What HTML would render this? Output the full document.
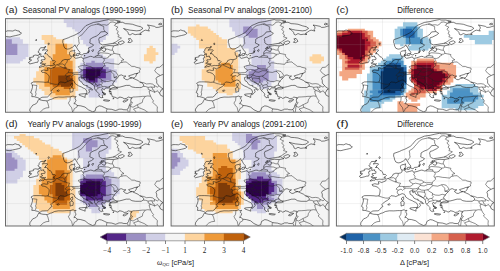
<!DOCTYPE html><html><head><meta charset="utf-8"><style>html,body{margin:0;padding:0;background:#fff;width:500px;height:271px;overflow:hidden}svg{display:block}text{font-family:"Liberation Sans",sans-serif;fill:#222}</style></head><body>
<svg xmlns="http://www.w3.org/2000/svg" width="500" height="271" viewBox="0 0 500 271">
<defs>
<clipPath id="mc"><rect x="0" y="0" width="157.90" height="93.60"/></clipPath>
<g id="grid"><path d="M1.88 0V93.60M24.00 0V93.60M46.12 0V93.60M68.24 0V93.60M90.36 0V93.60M112.48 0V93.60M134.60 0V93.60M156.72 0V93.60M0 93.79H157.90M0 71.19H157.90M0 48.59H157.90M0 25.99H157.90M0 3.39H157.90" fill="none" stroke="#aaa" stroke-opacity="0.35" stroke-width="0.45"/></g>
<g id="lines"><path d="M-2.5 17.4L-0.3 17.3L1.4 18.0L4.5 18.3L7.4 17.5L10.3 16.9L12.9 16.3L14.5 15.8L16.0 14.5L13.8 13.3L13.8 12.4L11.8 12.1L9.6 11.3L7.4 12.4L4.5 12.2L1.9 12.2L-1.4 13.6L-2.5 11.8L-5.9 12.0L-8.1 13.6L-3.6 14.7L-7.0 15.1L-3.6 16.5L-2.5 17.4M30.6 20.8L31.5 21.6L30.0 21.7L30.6 20.8M43.2 24.2L43.9 25.5L43.0 26.2L42.6 25.1L43.2 24.2M39.5 27.8L40.6 28.2L39.0 28.7L39.5 27.8M32.1 43.7L32.8 41.9L32.4 41.0L32.3 40.2L32.1 39.5L33.8 38.8L33.5 38.0L32.5 36.8L29.9 36.4L27.8 37.0L28.0 38.2L24.0 39.0L23.8 39.7L24.9 40.0L23.6 40.9L26.2 41.4L24.2 42.8L24.2 43.2L23.0 43.8L23.2 44.3L24.4 45.3L27.8 44.5L28.8 44.2L30.4 43.7L32.1 43.7M49.1 46.0L49.3 45.5L47.4 45.2L48.3 44.5L49.0 44.2L50.0 43.0L49.0 42.0L46.8 42.1L46.9 41.6L46.3 40.5L45.9 39.3L44.8 38.4L43.6 38.1L43.0 37.3L41.7 35.5L40.6 35.0L39.0 35.1L40.4 34.4L39.7 34.0L40.7 33.4L41.6 32.4L42.2 31.6L41.7 31.2L38.8 31.2L36.8 31.6L37.7 30.8L39.3 29.5L39.4 29.1L38.6 29.0L35.1 29.1L34.4 30.1L33.5 31.4L33.5 32.2L32.4 33.4L33.7 34.1L34.0 35.0L33.3 36.6L34.2 35.5L35.5 35.1L35.3 36.6L35.4 38.1L36.8 37.7L38.4 37.4L38.0 38.4L39.7 39.3L39.5 40.2L39.4 40.9L37.3 41.1L35.9 41.1L35.7 42.3L37.1 42.9L36.8 43.6L34.5 44.4L35.1 45.0L36.8 45.1L37.5 45.0L39.0 45.3L40.1 45.0L39.5 45.9L36.8 46.0L36.1 46.3L35.1 47.3L33.5 48.5L34.6 48.6L36.9 47.8L38.0 48.1L38.5 47.2L39.7 47.0L40.7 47.4L41.9 47.0L43.2 46.8L44.4 46.9L46.7 46.9L48.3 46.5L49.1 46.0M161.1 6.8L156.7 7.5L153.4 8.6L150.5 8.8L149.0 7.7L144.6 6.8L141.9 6.4L143.7 7.9L143.9 9.5L143.0 11.1L143.9 12.4L140.1 11.5L138.6 12.0L134.6 14.7L134.4 15.6L135.9 15.6L132.4 15.6L129.7 16.0L126.9 14.9L124.6 16.3L123.1 15.8L122.4 13.6L120.4 11.5L118.0 9.9L121.3 10.8L124.6 11.5L131.3 12.2L134.6 11.8L137.5 9.7L135.3 8.1L131.5 7.2L126.9 5.6L123.5 5.2L120.0 5.0L116.9 3.6L114.7 3.8L111.4 3.4L114.9 2.6L109.2 1.4L104.7 1.4L103.2 0.9L98.5 1.8L93.7 2.9L87.9 3.8L83.7 5.6L80.4 7.0L78.0 9.5L76.0 12.0L73.8 14.0L70.5 15.8L68.2 16.9L64.9 18.1L63.2 19.0L59.6 20.3L57.4 21.0L57.2 23.7L57.8 25.1L58.3 27.6L58.7 28.2L59.4 29.6L61.7 30.5L63.8 30.2L67.1 28.5L69.6 26.2L70.0 27.8L70.9 28.5L72.4 31.2L74.5 33.6L74.0 34.6L74.9 35.9L76.6 36.4L78.2 35.0L81.1 34.8L82.3 33.6L83.3 31.0L82.8 29.4L85.9 28.2L87.0 27.6L88.1 26.2L85.9 25.1L84.2 24.4L84.6 22.6L84.6 20.6L87.5 18.8L91.0 17.4L93.7 15.4L95.2 13.3L99.5 12.9L102.3 14.7L100.3 16.3L95.9 18.5L93.9 19.0L93.2 20.8L93.7 22.6L93.7 24.2L94.8 25.1L97.0 26.3L101.4 25.7L104.7 25.1L109.6 24.4L111.4 25.5L112.9 26.2L108.1 27.2L103.6 26.9L100.9 27.2L98.1 27.8L98.1 29.2L100.3 29.7L100.1 31.4L99.4 32.8L97.4 32.5L96.1 31.1L93.8 31.9L92.6 33.9L92.8 35.7L92.5 36.7L90.1 37.4L89.5 38.5L87.4 38.6L86.8 37.9L84.8 37.7L80.6 39.1L77.6 39.8L76.2 38.9L76.0 38.2L72.9 39.1L70.2 39.7L68.7 38.6L68.0 37.7L67.8 36.2L69.6 34.4L68.9 33.0L69.3 31.4L68.0 32.0L65.1 32.5L64.0 33.7L64.3 36.2L65.1 37.3L65.8 38.4L65.4 39.8L64.0 40.6L62.0 41.0L59.4 40.8L56.6 41.9L56.1 43.4L55.2 44.1L53.9 45.2L51.9 46.1L50.2 46.4L49.7 47.0L49.7 48.1L48.6 48.8L46.3 49.7L45.5 50.2L43.2 49.3L41.9 49.3L42.6 51.6L40.6 51.8L38.4 51.3L35.6 52.2L36.5 53.6L38.6 53.8L41.3 54.8L43.6 57.3L43.7 58.5L43.4 60.7L42.7 63.4L39.6 63.7L37.7 63.4L33.6 63.2L30.6 63.2L27.9 63.3L25.5 64.6L26.8 66.2L27.0 68.6L26.4 70.7L25.1 74.0L26.4 74.6L26.7 75.7L26.3 78.0L28.6 78.0L32.2 79.0L34.3 80.0L36.4 78.6L40.8 78.4L41.7 78.5L44.0 76.6L45.0 74.9L46.6 74.0L45.3 72.4L48.0 69.6L51.0 68.0L53.4 66.0L52.9 65.1L54.7 63.3L58.0 63.7L59.4 64.2L62.3 62.8L65.8 61.2L67.9 61.9L68.9 63.2L69.3 64.5L70.9 65.8L73.1 67.2L76.2 68.5L77.6 69.4L78.9 69.8L80.6 71.1L81.5 73.4L80.7 75.5L81.6 75.8L82.8 74.6L84.1 73.2L83.3 71.2L84.3 70.2L85.9 71.0L86.7 71.6L87.0 70.9L85.8 69.7L83.4 68.7L81.3 67.8L81.8 66.9L79.7 66.8L77.5 65.7L76.0 63.1L73.9 62.0L73.3 59.0L75.1 58.3L76.5 58.4L76.2 59.9L77.1 60.3L78.1 59.2L79.7 61.9L82.5 63.3L86.2 65.2L88.1 66.4L89.1 68.3L89.1 70.2L90.4 71.9L92.0 73.6L93.2 74.8L93.9 75.4L93.2 76.6L94.1 78.2L95.9 79.3L96.6 78.4L97.4 79.2L96.6 76.7L97.7 76.3L98.5 75.8L99.2 76.5L99.2 75.3L97.4 74.4L96.9 72.7L96.1 71.2L96.8 69.8L98.8 71.2L100.1 69.2L103.4 69.3L105.0 69.9L104.1 71.1L103.7 72.3L105.6 72.8L105.4 74.1L106.1 74.7L104.3 75.0L106.3 75.9L106.7 78.0L108.7 78.4L110.5 78.9L111.6 79.8L113.8 78.9L114.0 78.3L116.9 79.0L118.7 80.1L121.3 79.6L122.7 78.4L124.9 78.9L126.1 78.9L125.5 80.5L125.2 81.4L125.4 82.7L125.4 83.7L124.6 85.0L123.5 87.5L123.0 89.2L122.2 90.4L120.9 91.2L117.6 91.0L116.5 90.5L113.4 90.5L112.3 91.1L110.0 91.9L106.3 90.7L101.8 90.3L99.1 89.0L96.1 87.6L93.7 87.2L90.5 89.0L89.5 92.4L87.0 93.1L82.8 91.1L79.5 88.4L75.3 87.2L71.6 86.8L70.2 85.2L68.5 85.0L69.9 83.1L70.6 81.4L69.6 80.5L69.5 79.3L70.6 77.9L68.7 78.3L67.9 77.3L65.1 78.1L63.3 78.2L61.4 78.2L58.8 78.4L57.4 78.5L52.9 78.4L49.0 79.1L46.3 80.5L44.7 80.9L41.7 82.3L39.7 82.0L37.5 81.9L34.3 81.1L34.4 80.5L33.3 80.7L32.5 82.0L31.5 84.1L31.0 84.7L29.3 85.7L27.3 86.4L25.7 88.6L24.4 90.4L24.3 92.3L24.9 92.9L24.6 94.9M110.4 68.5L108.1 66.8L107.0 65.5L107.9 64.0L109.5 61.7L111.8 59.4L114.1 56.6L116.0 56.3L118.2 57.4L120.4 57.4L118.0 59.1L120.2 60.8L121.8 61.1L124.4 59.8L126.9 59.1L124.6 59.0L123.1 57.2L127.5 55.9L129.2 55.1L132.2 54.8L130.8 56.0L130.5 57.5L128.8 59.2L127.2 59.4L128.6 60.1L129.7 60.6L132.6 61.9L133.9 63.1L136.8 64.4L138.2 66.3L138.1 67.5L135.7 68.9L133.9 68.9L130.0 68.9L126.4 68.3L123.9 66.7L121.3 66.8L120.8 66.7L116.5 67.9L113.6 68.6L110.5 68.6L112.3 69.5L110.6 70.2L107.9 70.4L106.5 70.3L104.5 70.9L105.0 70.3L107.0 69.0L108.6 68.8L110.4 68.5M163.4 55.4L156.7 56.0L154.5 57.0L152.7 57.9L151.4 58.5L150.5 60.1L151.2 61.7L151.2 64.4L153.0 66.6L154.7 68.3L157.5 70.3L155.8 71.2L155.2 72.5L154.2 74.0L154.3 74.8L155.0 76.6L155.5 76.8L157.4 77.7L158.9 78.5L163.4 78.9M51.3 72.2L53.0 71.3L53.8 71.9L53.0 72.8L51.3 72.2M66.9 64.4L67.2 66.4L66.5 68.1L65.1 67.2L65.1 65.8L66.9 64.4M66.5 68.4L67.8 70.1L67.4 73.0L66.0 73.2L64.7 73.7L64.7 71.6L64.3 69.8L65.8 68.9L66.5 68.4M73.5 75.7L76.0 75.3L80.7 75.0L79.5 77.3L79.7 78.8L77.8 78.0L73.8 76.6L73.5 75.7M98.1 81.2L99.9 81.1L104.3 81.8L103.2 82.5L100.8 82.5L98.1 81.9L98.1 81.2M117.6 82.5L119.1 81.7L122.7 80.9L121.1 82.3L119.1 83.4L117.6 83.2L117.6 82.5M86.2 32.1L87.5 30.7L88.1 31.2L87.3 33.0L86.2 32.1M82.4 34.6L83.9 32.0L83.1 33.7L82.4 34.6M94.3 29.8L96.6 29.2L97.7 29.6L94.8 30.6L94.3 29.8M95.4 28.7L97.0 28.2L96.6 28.7L95.4 28.7M70.5 36.6L70.9 35.3L72.7 34.8L74.0 35.0L73.3 36.6L71.6 37.1L70.5 36.6M67.8 36.6L68.2 35.9L69.6 36.2L69.6 37.3L67.8 36.6M78.6 37.1L79.5 36.8L79.5 37.3L78.6 37.1M153.0 5.6L154.7 4.5L156.5 5.4L154.5 6.2L153.0 5.6M96.8 73.4L98.3 73.9L100.5 75.5L99.2 75.5L97.4 74.4L96.8 73.4M107.4 80.0L108.5 79.2L107.8 80.5L107.4 80.0M103.4 73.0L105.0 72.8L104.3 73.4L103.4 73.0M112.5 24.2L114.0 23.1L116.9 22.1L118.9 23.3L118.0 24.6L114.7 26.0L112.5 24.2M122.4 23.7L124.2 21.5L122.7 20.3L124.9 19.7L126.9 22.6L124.6 24.0L122.4 23.7" fill="none" stroke="#111" stroke-width="0.55" stroke-linejoin="round"/><path d="M71.3 28.2L72.2 26.4L73.8 24.9L73.3 22.6L73.3 20.8L72.8 18.5L76.9 15.8L77.8 14.5L80.2 11.8L83.1 8.4L85.9 6.8L91.6 5.5M91.6 5.5L93.2 5.0L95.7 6.3L99.0 6.1L101.2 6.6L103.2 5.6L104.7 3.6L107.4 3.3L108.9 3.8L110.9 4.7L110.0 5.5M110.0 5.5L111.4 4.7L114.4 3.9M91.6 5.5L95.7 6.8L98.3 8.0L98.2 10.6L99.5 12.9M110.0 5.5L108.9 6.8L112.5 8.6L110.5 10.4L112.7 13.1L111.6 14.9L113.6 16.5L112.5 18.1L116.0 19.4L110.3 23.3L107.6 24.7M108.1 27.2L107.6 28.5L107.0 29.8L107.0 31.0L106.6 31.5M99.9 30.7L102.1 30.5L104.7 31.4L106.6 31.5M106.6 31.5L107.8 32.3L108.5 34.7M108.5 34.7L107.2 35.5L105.0 35.7M92.7 34.9L95.2 34.1L99.2 34.4L102.7 34.7L105.0 35.7M105.0 35.7L105.4 36.6L103.2 37.6L102.7 38.9L100.1 39.8L98.1 39.7M92.6 36.6L94.8 37.2L96.6 37.5L96.3 38.8M96.3 38.8L92.6 38.6L89.6 38.5M96.3 38.8L98.1 39.7M98.1 39.7L99.0 41.4L98.3 42.7L97.4 43.5L98.4 45.2M108.5 34.7L114.5 35.9L114.2 37.3L116.5 40.0L118.5 41.1L115.8 42.0L116.5 43.8M98.4 45.2L100.1 44.3L102.1 44.2L106.3 45.0L108.5 45.1L110.7 45.4L113.6 45.7L114.5 44.1L116.5 43.8M116.5 43.8L118.0 43.4L120.9 43.3L122.2 44.7L124.4 46.2L126.2 47.7L129.1 47.8L130.6 48.6L134.6 49.5L134.8 50.8L133.9 51.8L134.2 53.6L130.6 55.1M98.4 45.2L99.4 46.7L98.1 47.7L96.1 49.7L96.0 50.6M77.5 39.8L78.0 41.1L77.3 42.3L78.6 43.8L78.4 45.4L79.3 46.3M79.3 46.3L82.0 47.2L83.5 47.7L85.3 47.9L87.7 49.7M87.7 49.7L89.9 50.4L92.4 50.2L96.0 50.6M96.0 50.6L95.1 52.2M95.1 52.2L96.8 53.2M96.8 53.2L101.2 53.8L105.0 52.5M105.0 52.5L107.0 52.1L109.8 52.9L110.7 54.0L112.7 56.7L111.8 57.6L108.5 58.9M105.0 52.5L106.5 53.8L108.3 55.8L108.5 58.9M108.5 58.9L111.8 59.3M96.8 53.2L94.8 54.5L93.0 56.7L90.9 57.4M90.9 57.4L93.5 59.4L95.9 60.6L96.3 61.6M96.3 61.6L99.2 62.7L102.7 62.9L105.8 61.9L109.3 62.7M96.3 61.6L95.7 62.8L97.0 64.4L95.7 66.0M95.7 66.0L97.0 68.1M97.0 68.1L99.2 67.8L102.1 68.4L103.9 68.1L104.4 67.3M104.4 67.3L106.5 66.7L108.1 66.7M104.4 67.3L103.9 68.3L103.7 69.4M97.0 68.1L94.8 68.7L92.6 69.3M92.6 69.3L91.9 70.5L90.4 71.9M92.6 69.3L91.5 67.8L91.7 67.0M91.7 67.0L90.6 65.5L89.0 66.9M91.7 67.0L93.9 66.1L95.7 66.0M90.6 65.5L88.6 63.3M88.6 63.3L87.0 65.7M87.0 65.7L85.5 64.4L83.7 63.3L81.5 61.7L81.1 59.4L83.7 59.4L87.0 59.8L88.3 60.1M88.3 60.1L89.0 61.7L88.6 63.3M88.3 60.1L88.0 57.9M88.0 57.9L85.1 57.7L82.6 56.5M82.6 56.5L80.6 57.3L80.2 58.8L78.4 58.8L76.2 58.9M76.4 58.5L76.4 56.5M76.4 56.5L79.3 56.3L81.7 55.7M81.7 55.7L82.6 56.5M88.0 57.9L90.9 57.4M84.1 53.1L87.7 53.6L91.5 52.0L95.1 52.2M81.7 55.7L82.6 54.2L84.1 53.1M84.1 53.1L83.6 51.8M83.6 51.8L85.3 51.2L87.7 49.7M83.6 51.8L79.3 50.8L76.8 51.4M76.8 51.4L73.8 49.7L72.9 47.9L76.0 47.0L77.8 46.6L79.3 46.3M76.8 51.4L74.9 53.6L73.1 54.0L69.3 54.1L67.2 54.1M76.4 56.5L73.3 55.8L70.5 55.8L69.2 55.7M69.2 55.7L67.2 55.3L67.2 54.1M67.2 54.1L64.9 54.0L62.9 54.0M62.9 54.0L61.6 54.5L59.6 56.7L61.2 57.4L61.6 57.9M61.6 57.9L64.7 56.7L66.0 58.0L67.1 57.0L69.2 55.7M61.6 57.9L60.7 59.7L61.6 61.7L62.7 62.6M62.9 54.0L63.2 52.4L64.3 50.9L61.6 50.4L60.2 49.8M60.2 49.8L58.9 49.6M58.9 49.6L56.7 48.6L52.8 46.8L51.8 46.1M58.9 49.6L59.6 48.3M60.2 49.8L59.6 48.3M59.6 48.3L59.4 46.9M59.4 46.9L57.2 45.3L53.6 45.5M59.4 46.9L59.8 45.2L61.2 44.1L61.7 42.7L62.0 41.1M65.1 37.5L68.0 37.7M42.2 63.6L46.1 64.9L49.4 65.7L53.1 65.7M26.5 66.9L28.0 66.4L31.5 66.9L31.0 68.9L30.6 72.1L30.0 73.4L30.6 75.3L29.8 77.5M41.3 82.3L42.4 84.7L43.5 89.0L40.6 89.3L37.7 90.6L34.4 93.8M65.1 78.1L64.7 79.1L64.5 81.8L62.8 84.5L63.4 85.2L64.4 87.0L66.1 89.0L67.1 93.3M71.7 86.7L71.6 88.4L68.9 89.9L68.2 91.8L67.1 93.3M67.1 93.3L68.0 94.9M101.8 90.2L101.0 91.5L101.3 94.9M121.9 90.9L123.3 94.9M123.8 86.8L124.9 86.4L125.4 86.3M124.8 87.7L124.6 90.4L124.0 94.9M125.4 86.3L124.9 87.7M125.6 83.3L126.6 83.6L127.1 84.3L126.0 85.2L125.4 86.3M124.9 87.7L127.5 88.6L131.9 86.1M131.9 86.1L132.8 88.8M132.8 88.8L128.0 90.4L130.2 92.7L129.3 94.9M131.9 86.1L136.8 83.8L137.3 81.1L139.8 77.7M125.5 80.3L126.2 80.0L127.1 78.4L130.2 78.3L134.6 78.0L136.8 77.7L139.8 77.7M132.8 88.8L139.0 91.3L145.0 95.6M139.8 77.7L142.3 77.3L145.1 77.6M145.1 77.6L146.5 80.3L148.1 82.3L147.0 83.6L148.8 85.2L151.9 88.1L151.6 91.5L152.3 94.9M145.1 77.6L144.1 75.0L143.6 72.5L145.2 71.9M145.2 71.9L142.7 70.6L142.6 68.7M142.6 68.7L140.1 67.9L138.0 67.8M134.5 63.5L137.9 64.0L141.0 65.3L144.6 65.0L147.2 65.5L148.9 66.9M142.6 68.7L145.7 68.3M145.7 68.3L149.0 68.8L148.9 66.9M145.7 68.3L146.8 69.4L147.4 71.2L149.0 72.3L149.0 73.7M145.2 71.9L147.4 72.8L149.0 73.7M148.9 66.9L151.9 68.5L153.5 67.1M149.0 73.7L152.1 72.1L153.2 73.9L154.3 74.7M154.5 56.7L151.2 54.5L149.2 52.0L151.2 48.8L154.1 48.6L158.3 45.0L161.1 45.0" fill="none" stroke="#222" stroke-width="0.5"/></g>
</defs>
<g transform="translate(5.50,18.65)">
<rect x="0" y="0" width="157.90" height="93.60" fill="#f4f4f4"/>
<g clip-path="url(#mc)">
<g><path d="M58.26 -0.58H103.10V2.15H58.26ZM58.26 1.55H103.10V4.28H58.26ZM61.03 3.68H103.10V6.41H61.03ZM61.03 5.81H103.10V8.54H61.03ZM66.56 7.94H103.10V10.67H66.56ZM69.32 10.07H103.10V12.80H69.32ZM72.09 12.20H103.10V14.93H72.09ZM72.09 14.33H103.10V17.06H72.09ZM74.85 16.46H100.34V19.19H74.85ZM0.20 18.59H14.62V21.32H0.20ZM74.85 18.59H100.34V21.32H74.85ZM0.20 20.72H17.39V23.45H0.20ZM77.62 20.72H97.57V23.45H77.62ZM0.20 22.85H17.39V25.58H0.20ZM77.62 22.85H94.81V25.58H77.62ZM0.20 24.98H22.92V27.71H0.20ZM80.38 24.98H94.81V27.71H80.38ZM0.20 27.11H22.92V29.84H0.20ZM83.15 27.11H94.81V29.84H83.15ZM0.20 29.24H22.92V31.97H0.20ZM83.15 29.24H94.81V31.97H83.15ZM0.20 31.37H22.92V34.10H0.20ZM83.15 31.37H94.81V34.10H83.15ZM0.20 33.50H22.92V36.23H0.20ZM80.38 33.50H94.81V36.23H80.38ZM0.20 35.63H22.92V38.36H0.20ZM77.62 35.63H97.57V38.36H77.62ZM0.20 37.76H20.15V40.49H0.20ZM77.62 37.76H100.34V40.49H77.62ZM0.20 39.89H17.39V42.62H0.20ZM77.62 39.89H108.63V42.62H77.62ZM0.20 42.02H14.62V44.75H0.20ZM77.62 42.02H108.63V44.75H77.62ZM74.85 44.15H108.63V46.88H74.85ZM74.85 46.28H108.63V49.01H74.85ZM74.85 48.41H108.63V51.14H74.85ZM72.09 50.54H111.40V53.27H72.09ZM72.09 52.67H111.40V55.40H72.09ZM72.09 54.80H111.40V57.53H72.09ZM72.09 56.93H111.40V59.66H72.09ZM72.09 59.06H111.40V61.79H72.09ZM74.85 61.19H111.40V63.92H74.85ZM77.62 63.32H108.63V66.05H77.62ZM80.38 65.45H105.87V68.18H80.38ZM80.38 67.58H103.10V70.31H80.38ZM83.15 69.71H97.57V72.44H83.15ZM83.15 71.84H97.57V74.57H83.15ZM83.15 73.97H97.57V76.70H83.15ZM83.15 76.10H94.81V78.83H83.15Z" fill="#d0cfe6"/><path d="M36.14 16.46H47.80V19.19H36.14ZM36.14 18.59H50.57V21.32H36.14ZM38.91 20.72H58.86V23.45H38.91ZM38.91 22.85H58.86V25.58H38.91ZM41.67 24.98H67.16V27.71H41.67ZM41.67 27.11H67.16V29.84H41.67ZM143.98 27.11H147.34V29.84H143.98ZM41.67 29.24H67.16V31.97H41.67ZM141.21 29.24H150.11V31.97H141.21ZM41.67 31.37H67.16V34.10H41.67ZM141.21 31.37H150.11V34.10H141.21ZM41.67 33.50H69.92V36.23H41.67ZM141.21 33.50H152.87V36.23H141.21ZM38.91 35.63H69.92V38.36H38.91ZM138.45 35.63H150.11V38.36H138.45ZM38.91 37.76H69.92V40.49H38.91ZM138.45 37.76H150.11V40.49H138.45ZM38.91 39.89H69.92V42.62H38.91ZM138.45 39.89H150.11V42.62H138.45ZM36.14 42.02H69.92V44.75H36.14ZM143.98 42.02H147.34V44.75H143.98ZM36.14 44.15H69.92V46.88H36.14ZM36.14 46.28H69.92V49.01H36.14ZM33.38 48.41H69.92V51.14H33.38ZM33.38 50.54H69.92V53.27H33.38ZM30.61 52.67H72.69V55.40H30.61ZM30.61 54.80H72.69V57.53H30.61ZM30.61 56.93H72.69V59.66H30.61ZM27.85 59.06H72.69V61.79H27.85ZM27.85 61.19H72.69V63.92H27.85ZM30.61 63.32H72.69V66.05H30.61ZM33.38 65.45H72.69V68.18H33.38ZM33.38 67.58H72.69V70.31H33.38ZM36.14 69.71H72.69V72.44H36.14ZM38.91 71.84H69.92V74.57H38.91ZM38.91 73.97H69.92V76.70H38.91ZM44.44 76.10H69.92V78.83H44.44ZM47.20 78.23H61.63V80.96H47.20Z" fill="#fdd49e"/><path d="M0.20 20.72H6.33V23.45H0.20ZM0.20 22.85H6.33V25.58H0.20ZM0.20 24.98H11.86V27.71H0.20ZM0.20 27.11H11.86V29.84H0.20ZM0.20 29.24H11.86V31.97H0.20ZM0.20 31.37H11.86V34.10H0.20ZM0.20 33.50H11.86V36.23H0.20ZM85.91 42.02H89.28V44.75H85.91ZM80.38 44.15H97.57V46.88H80.38ZM77.62 46.28H100.34V49.01H77.62ZM77.62 48.41H103.10V51.14H77.62ZM74.85 50.54H105.87V53.27H74.85ZM74.85 52.67H105.87V55.40H74.85ZM74.85 54.80H105.87V57.53H74.85ZM74.85 56.93H105.87V59.66H74.85ZM77.62 59.06H105.87V61.79H77.62ZM80.38 61.19H100.34V63.92H80.38ZM85.91 63.32H94.81V66.05H85.91ZM88.68 65.45H94.81V68.18H88.68Z" fill="#9b8fc3"/><path d="M49.97 24.98H61.63V27.71H49.97ZM49.97 27.11H61.63V29.84H49.97ZM49.97 29.24H61.63V31.97H49.97ZM49.97 31.37H61.63V34.10H49.97ZM49.97 33.50H61.63V36.23H49.97ZM47.20 35.63H64.39V38.36H47.20ZM47.20 37.76H64.39V40.49H47.20ZM47.20 39.89H64.39V42.62H47.20ZM44.44 42.02H67.16V44.75H44.44ZM44.44 44.15H67.16V46.88H44.44ZM44.44 46.28H67.16V49.01H44.44ZM38.91 48.41H67.16V51.14H38.91ZM38.91 50.54H67.16V53.27H38.91ZM38.91 52.67H67.16V55.40H38.91ZM38.91 54.80H67.16V57.53H38.91ZM38.91 56.93H69.92V59.66H38.91ZM38.91 59.06H69.92V61.79H38.91ZM38.91 61.19H69.92V63.92H38.91ZM38.91 63.32H69.92V66.05H38.91ZM38.91 65.45H69.92V68.18H38.91ZM44.44 67.58H69.92V70.31H44.44ZM44.44 69.71H64.39V72.44H44.44ZM47.20 71.84H64.39V74.57H47.20ZM49.97 73.97H64.39V76.70H49.97Z" fill="#ee9a3a"/><path d="M80.38 48.41H97.57V51.14H80.38ZM77.62 50.54H100.34V53.27H77.62ZM77.62 52.67H100.34V55.40H77.62ZM77.62 54.80H100.34V57.53H77.62ZM77.62 56.93H100.34V59.66H77.62ZM80.38 59.06H92.04V61.79H80.38ZM83.15 61.19H92.04V63.92H83.15Z" fill="#542788"/><path d="M47.20 48.41H61.63V51.14H47.20ZM44.44 50.54H67.16V53.27H44.44ZM44.44 52.67H67.16V55.40H44.44ZM44.44 54.80H67.16V57.53H44.44ZM44.44 56.93H67.16V59.66H44.44ZM44.44 59.06H67.16V61.79H44.44ZM44.44 61.19H67.16V63.92H44.44ZM44.44 63.32H67.16V66.05H44.44ZM47.20 65.45H67.16V68.18H47.20ZM58.26 67.58H64.39V70.31H58.26Z" fill="#c0620c"/><path d="M80.38 50.54H94.81V53.27H80.38ZM80.38 52.67H94.81V55.40H80.38ZM80.38 54.80H94.81V57.53H80.38ZM80.38 56.93H92.04V59.66H80.38ZM83.15 59.06H89.28V61.79H83.15Z" fill="#2d004b"/><path d="M52.73 56.93H64.39V59.66H52.73ZM52.73 59.06H67.16V61.79H52.73ZM52.73 61.19H67.16V63.92H52.73ZM52.73 63.32H67.16V66.05H52.73ZM55.50 65.45H64.39V68.18H55.50Z" fill="#7f3b08"/></g>
<use href="#grid"/>
<use href="#lines"/>
</g>
<rect x="0" y="0" width="157.90" height="93.60" fill="none" stroke="#666" stroke-width="0.95"/>
<text x="-0.2" y="-5.35" font-size="9" textLength="12.3" lengthAdjust="spacingAndGlyphs">(a)</text>
<text x="78.95" y="-5.5" font-size="8.7" text-anchor="middle" textLength="123.7" lengthAdjust="spacingAndGlyphs">Seasonal PV analogs (1990-1999)</text>
</g>
<g transform="translate(171.10,18.65)">
<rect x="0" y="0" width="157.90" height="93.60" fill="#f4f4f4"/>
<g clip-path="url(#mc)">
<g><path d="M58.26 -0.58H94.81V2.15H58.26ZM58.26 1.55H100.34V4.28H58.26ZM58.26 3.68H100.34V6.41H58.26ZM58.26 5.81H100.34V8.54H58.26ZM61.03 7.94H100.34V10.67H61.03ZM61.03 10.07H100.34V12.80H61.03ZM63.79 12.20H100.34V14.93H63.79ZM63.79 14.33H100.34V17.06H63.79ZM66.56 16.46H100.34V19.19H66.56ZM72.09 18.59H100.34V21.32H72.09ZM72.09 20.72H100.34V23.45H72.09ZM72.09 22.85H100.34V25.58H72.09ZM0.20 24.98H6.33V27.71H0.20ZM72.09 24.98H100.34V27.71H72.09ZM0.20 27.11H9.09V29.84H0.20ZM72.09 27.11H100.34V29.84H72.09ZM0.20 29.24H6.33V31.97H0.20ZM77.62 29.24H100.34V31.97H77.62ZM0.20 31.37H6.33V34.10H0.20ZM77.62 31.37H100.34V34.10H77.62ZM0.20 33.50H3.56V36.23H0.20ZM80.38 33.50H100.34V36.23H80.38ZM80.38 35.63H100.34V38.36H80.38ZM80.38 37.76H100.34V40.49H80.38ZM80.38 39.89H100.34V42.62H80.38ZM80.38 42.02H103.10V44.75H80.38ZM80.38 44.15H103.10V46.88H80.38ZM74.85 46.28H103.10V49.01H74.85ZM74.85 48.41H103.10V51.14H74.85ZM74.85 50.54H105.87V53.27H74.85ZM74.85 52.67H105.87V55.40H74.85ZM74.85 54.80H105.87V57.53H74.85ZM74.85 56.93H105.87V59.66H74.85ZM74.85 59.06H105.87V61.79H74.85ZM77.62 61.19H103.10V63.92H77.62ZM80.38 63.32H100.34V66.05H80.38ZM85.91 65.45H100.34V68.18H85.91ZM88.68 67.58H97.57V70.31H88.68Z" fill="#d0cfe6"/><path d="M25.08 5.81H28.45V8.54H25.08ZM16.79 7.94H36.74V10.67H16.79ZM16.79 10.07H39.51V12.80H16.79ZM16.79 12.20H42.27V14.93H16.79ZM19.55 14.33H45.04V17.06H19.55ZM22.32 16.46H47.80V19.19H22.32ZM25.08 18.59H50.57V21.32H25.08ZM27.85 20.72H56.10V23.45H27.85ZM27.85 22.85H56.10V25.58H27.85ZM27.85 24.98H56.10V27.71H27.85ZM27.85 27.11H56.10V29.84H27.85ZM33.38 29.24H64.39V31.97H33.38ZM33.38 31.37H64.39V34.10H33.38ZM33.38 33.50H67.16V36.23H33.38ZM33.38 35.63H67.16V38.36H33.38ZM141.21 35.63H150.11V38.36H141.21ZM33.38 37.76H67.16V40.49H33.38ZM138.45 37.76H152.87V40.49H138.45ZM33.38 39.89H67.16V42.62H33.38ZM138.45 39.89H152.87V42.62H138.45ZM33.38 42.02H67.16V44.75H33.38ZM141.21 42.02H150.11V44.75H141.21ZM33.38 44.15H67.16V46.88H33.38ZM33.38 46.28H67.16V49.01H33.38ZM33.38 48.41H67.16V51.14H33.38ZM30.61 50.54H67.16V53.27H30.61ZM30.61 52.67H67.16V55.40H30.61ZM30.61 54.80H69.92V57.53H30.61ZM30.61 56.93H69.92V59.66H30.61ZM30.61 59.06H69.92V61.79H30.61ZM33.38 61.19H69.92V63.92H33.38ZM36.14 63.32H69.92V66.05H36.14ZM36.14 65.45H69.92V68.18H36.14ZM41.67 67.58H69.92V70.31H41.67ZM44.44 69.71H67.16V72.44H44.44ZM47.20 71.84H64.39V74.57H47.20ZM55.50 73.97H61.63V76.70H55.50Z" fill="#fdd49e"/><path d="M72.09 7.94H80.98V10.67H72.09ZM72.09 10.07H86.51V12.80H72.09ZM72.09 12.20H86.51V14.93H72.09ZM74.85 14.33H86.51V17.06H74.85ZM77.62 16.46H86.51V19.19H77.62ZM85.91 46.28H94.81V49.01H85.91ZM85.91 48.41H94.81V51.14H85.91ZM80.38 50.54H97.57V53.27H80.38ZM77.62 52.67H97.57V55.40H77.62ZM77.62 54.80H97.57V57.53H77.62ZM77.62 56.93H97.57V59.66H77.62ZM80.38 59.06H97.57V61.79H80.38ZM83.15 61.19H92.04V63.92H83.15Z" fill="#9b8fc3"/><path d="M49.97 44.15H58.86V46.88H49.97ZM47.20 46.28H61.63V49.01H47.20ZM47.20 48.41H61.63V51.14H47.20ZM44.44 50.54H61.63V53.27H44.44ZM44.44 52.67H61.63V55.40H44.44ZM44.44 54.80H61.63V57.53H44.44ZM44.44 56.93H64.39V59.66H44.44ZM44.44 59.06H64.39V61.79H44.44ZM47.20 61.19H64.39V63.92H47.20ZM49.97 63.32H64.39V66.05H49.97ZM52.73 65.45H64.39V68.18H52.73Z" fill="#ee9a3a"/></g>
<use href="#grid"/>
<use href="#lines"/>
</g>
<rect x="0" y="0" width="157.90" height="93.60" fill="none" stroke="#666" stroke-width="0.95"/>
<text x="-0.2" y="-5.35" font-size="9" textLength="12.3" lengthAdjust="spacingAndGlyphs">(b)</text>
<text x="78.95" y="-5.5" font-size="8.7" text-anchor="middle" textLength="124.0" lengthAdjust="spacingAndGlyphs">Seasonal PV analogs (2091-2100)</text>
</g>
<g transform="translate(336.40,18.65)">
<rect x="0" y="0" width="157.90" height="93.60" fill="#fff"/>
<g clip-path="url(#mc)">
<g><path d="M66.56 3.68H80.98V6.41H66.56ZM66.56 5.81H80.98V8.54H66.56ZM61.03 7.94H83.75V10.67H61.03ZM58.26 10.07H86.51V12.80H58.26ZM58.26 12.20H86.51V14.93H58.26ZM152.27 12.20H158.40V14.93H152.27ZM58.26 14.33H86.51V17.06H58.26ZM152.27 14.33H158.40V17.06H152.27ZM58.26 16.46H86.51V19.19H58.26ZM127.39 16.46H158.40V19.19H127.39ZM58.26 18.59H92.04V21.32H58.26ZM132.92 18.59H158.40V21.32H132.92ZM58.26 20.72H94.81V23.45H58.26ZM138.45 20.72H155.64V23.45H138.45ZM58.26 22.85H94.81V25.58H58.26ZM138.45 22.85H155.64V25.58H138.45ZM63.79 24.98H67.16V27.71H63.79ZM74.85 24.98H94.81V27.71H74.85ZM72.09 27.11H94.81V29.84H72.09ZM72.09 29.24H92.04V31.97H72.09ZM52.73 35.63H64.39V38.36H52.73ZM49.97 37.76H67.16V40.49H49.97ZM47.20 39.89H67.16V42.62H47.20ZM44.44 42.02H67.16V44.75H44.44ZM41.67 44.15H67.16V46.88H41.67ZM38.91 46.28H69.92V49.01H38.91ZM33.38 48.41H69.92V51.14H33.38ZM33.38 50.54H69.92V53.27H33.38ZM33.38 52.67H69.92V55.40H33.38ZM30.61 54.80H69.92V57.53H30.61ZM30.61 56.93H69.92V59.66H30.61ZM30.61 59.06H69.92V61.79H30.61ZM30.61 61.19H69.92V63.92H30.61ZM30.61 63.32H69.92V66.05H30.61ZM30.61 65.45H69.92V68.18H30.61ZM119.09 65.45H139.05V68.18H119.09ZM30.61 67.58H69.92V70.31H30.61ZM113.56 67.58H141.81V70.31H113.56ZM30.61 69.71H69.92V72.44H30.61ZM113.56 69.71H141.81V72.44H113.56ZM27.85 71.84H69.92V74.57H27.85ZM110.80 71.84H141.81V74.57H110.80ZM27.85 73.97H67.16V76.70H27.85ZM110.80 73.97H144.58V76.70H110.80ZM27.85 76.10H64.39V78.83H27.85ZM105.27 76.10H147.34V78.83H105.27ZM27.85 78.23H58.86V80.96H27.85ZM105.27 78.23H144.58V80.96H105.27ZM27.85 80.36H56.10V83.09H27.85ZM105.27 80.36H147.34V83.09H105.27ZM27.85 82.49H47.80V85.22H27.85ZM105.27 82.49H147.34V85.22H105.27ZM27.85 84.62H45.04V87.35H27.85ZM105.27 84.62H147.34V87.35H105.27ZM25.08 86.75H45.04V89.48H25.08ZM105.27 86.75H141.81V89.48H105.27ZM25.08 88.88H33.98V91.61H25.08ZM119.09 88.88H139.05V91.61H119.09ZM25.08 91.01H33.98V93.74H25.08Z" fill="#9dcae2"/><path d="M11.26 10.07H28.45V12.80H11.26ZM0.20 12.20H36.74V14.93H0.20ZM0.20 14.33H36.74V17.06H0.20ZM0.20 16.46H36.74V19.19H0.20ZM0.20 18.59H39.51V21.32H0.20ZM0.20 20.72H42.27V23.45H0.20ZM0.20 22.85H45.04V25.58H0.20ZM0.20 24.98H45.04V27.71H0.20ZM0.20 27.11H42.27V29.84H0.20ZM0.20 29.24H39.51V31.97H0.20ZM0.20 31.37H39.51V34.10H0.20ZM0.20 33.50H36.74V36.23H0.20ZM2.96 35.63H33.98V38.36H2.96ZM2.96 37.76H33.98V40.49H2.96ZM5.73 39.89H31.21V42.62H5.73ZM80.38 39.89H97.57V42.62H80.38ZM5.73 42.02H31.21V44.75H5.73ZM74.85 42.02H100.34V44.75H74.85ZM5.73 44.15H28.45V46.88H5.73ZM74.85 44.15H116.93V46.88H74.85ZM5.73 46.28H28.45V49.01H5.73ZM74.85 46.28H119.69V49.01H74.85ZM5.73 48.41H28.45V51.14H5.73ZM74.85 48.41H119.69V51.14H74.85ZM5.73 50.54H25.68V53.27H5.73ZM72.09 50.54H119.69V53.27H72.09ZM2.96 52.67H25.68V55.40H2.96ZM72.09 52.67H119.69V55.40H72.09ZM2.96 54.80H20.15V57.53H2.96ZM74.85 54.80H119.69V57.53H74.85ZM5.73 56.93H20.15V59.66H5.73ZM74.85 56.93H119.69V59.66H74.85ZM5.73 59.06H11.86V61.79H5.73ZM74.85 59.06H116.93V61.79H74.85ZM74.85 61.19H116.93V63.92H74.85ZM77.62 63.32H114.16V66.05H77.62ZM77.62 65.45H105.87V68.18H77.62ZM77.62 67.58H105.87V70.31H77.62ZM74.85 69.71H105.87V72.44H74.85ZM72.09 71.84H100.34V74.57H72.09ZM69.32 73.97H89.28V76.70H69.32ZM69.32 76.10H89.28V78.83H69.32ZM72.09 78.23H83.75V80.96H72.09ZM74.85 80.36H80.98V83.09H74.85ZM61.03 82.49H67.16V85.22H61.03ZM61.03 84.62H83.75V87.35H61.03ZM61.03 86.75H80.98V89.48H61.03ZM61.03 88.88H80.98V91.61H61.03ZM61.03 91.01H80.98V93.74H61.03Z" fill="#f3a784"/><path d="M69.32 7.94H80.98V10.67H69.32ZM63.79 10.07H80.98V12.80H63.79ZM63.79 12.20H80.98V14.93H63.79ZM63.79 14.33H80.98V17.06H63.79ZM66.56 16.46H80.98V19.19H66.56ZM69.32 18.59H83.75V21.32H69.32ZM69.32 20.72H86.51V23.45H69.32ZM69.32 22.85H86.51V25.58H69.32ZM55.50 39.89H64.39V42.62H55.50ZM49.97 42.02H67.16V44.75H49.97ZM47.20 44.15H67.16V46.88H47.20ZM44.44 46.28H69.92V49.01H44.44ZM41.67 48.41H69.92V51.14H41.67ZM36.14 50.54H69.92V53.27H36.14ZM36.14 52.67H69.92V55.40H36.14ZM36.14 54.80H69.92V57.53H36.14ZM36.14 56.93H69.92V59.66H36.14ZM36.14 59.06H69.92V61.79H36.14ZM36.14 61.19H69.92V63.92H36.14ZM36.14 63.32H69.92V66.05H36.14ZM36.14 65.45H69.92V68.18H36.14ZM36.14 67.58H69.92V70.31H36.14ZM36.14 69.71H67.16V72.44H36.14ZM116.33 69.71H133.52V72.44H116.33ZM33.38 71.84H67.16V74.57H33.38ZM116.33 71.84H133.52V74.57H116.33ZM36.14 73.97H67.16V76.70H36.14ZM113.56 73.97H136.28V76.70H113.56ZM33.38 76.10H58.86V78.83H33.38ZM113.56 76.10H141.81V78.83H113.56ZM33.38 78.23H53.33V80.96H33.38ZM113.56 78.23H141.81V80.96H113.56ZM33.38 80.36H45.04V83.09H33.38ZM110.80 80.36H139.05V83.09H110.80ZM110.80 82.49H127.99V85.22H110.80Z" fill="#4b92c5"/><path d="M5.73 12.20H31.21V14.93H5.73ZM0.20 14.33H31.21V17.06H0.20ZM0.20 16.46H33.98V19.19H0.20ZM0.20 18.59H33.98V21.32H0.20ZM0.20 20.72H36.74V23.45H0.20ZM0.20 22.85H39.51V25.58H0.20ZM0.20 24.98H39.51V27.71H0.20ZM0.20 27.11H36.74V29.84H0.20ZM0.20 29.24H33.98V31.97H0.20ZM2.96 31.37H33.98V34.10H2.96ZM5.73 33.50H31.21V36.23H5.73ZM8.49 35.63H31.21V38.36H8.49ZM8.49 37.76H28.45V40.49H8.49ZM11.26 39.89H28.45V42.62H11.26ZM8.49 42.02H25.68V44.75H8.49ZM80.38 42.02H97.57V44.75H80.38ZM11.26 44.15H22.92V46.88H11.26ZM77.62 44.15H100.34V46.88H77.62ZM11.26 46.28H25.68V49.01H11.26ZM74.85 46.28H103.10V49.01H74.85ZM8.49 48.41H22.92V51.14H8.49ZM74.85 48.41H103.10V51.14H74.85ZM74.85 50.54H108.63V53.27H74.85ZM74.85 52.67H111.40V55.40H74.85ZM74.85 54.80H114.16V57.53H74.85ZM74.85 56.93H114.16V59.66H74.85ZM74.85 59.06H111.40V61.79H74.85ZM74.85 61.19H111.40V63.92H74.85ZM77.62 63.32H108.63V66.05H77.62ZM77.62 65.45H105.87V68.18H77.62ZM77.62 67.58H105.87V70.31H77.62ZM77.62 69.71H100.34V72.44H77.62ZM77.62 71.84H89.28V74.57H77.62ZM74.85 73.97H78.22V76.70H74.85Z" fill="#d6604d"/><path d="M66.56 10.07H75.45V12.80H66.56ZM66.56 12.20H78.22V14.93H66.56ZM66.56 14.33H78.22V17.06H66.56ZM69.32 16.46H78.22V19.19H69.32ZM52.73 44.15H64.39V46.88H52.73ZM47.20 46.28H64.39V49.01H47.20ZM47.20 48.41H69.92V51.14H47.20ZM44.44 50.54H69.92V53.27H44.44ZM44.44 52.67H69.92V55.40H44.44ZM44.44 54.80H69.92V57.53H44.44ZM44.44 56.93H69.92V59.66H44.44ZM44.44 59.06H69.92V61.79H44.44ZM44.44 61.19H69.92V63.92H44.44ZM44.44 63.32H69.92V66.05H44.44ZM44.44 65.45H67.16V68.18H44.44ZM44.44 67.58H67.16V70.31H44.44ZM44.44 69.71H67.16V72.44H44.44ZM41.67 71.84H64.39V74.57H41.67ZM44.44 73.97H64.39V76.70H44.44Z" fill="#1f63a8"/><path d="M11.26 12.20H25.68V14.93H11.26ZM5.73 14.33H28.45V17.06H5.73ZM0.20 16.46H28.45V19.19H0.20ZM0.20 18.59H31.21V21.32H0.20ZM0.20 20.72H31.21V23.45H0.20ZM0.20 22.85H33.98V25.58H0.20ZM0.20 24.98H33.98V27.71H0.20ZM0.20 27.11H31.21V29.84H0.20ZM2.96 29.24H31.21V31.97H2.96ZM5.73 31.37H28.45V34.10H5.73ZM8.49 33.50H28.45V36.23H8.49ZM11.26 35.63H28.45V38.36H11.26ZM11.26 37.76H28.45V40.49H11.26ZM14.02 39.89H25.68V42.62H14.02ZM11.26 42.02H22.92V44.75H11.26ZM80.38 44.15H97.57V46.88H80.38ZM11.26 46.28H22.92V49.01H11.26ZM77.62 46.28H97.57V49.01H77.62ZM77.62 48.41H97.57V51.14H77.62ZM74.85 50.54H100.34V53.27H74.85ZM74.85 52.67H105.87V55.40H74.85ZM74.85 54.80H111.40V57.53H74.85ZM74.85 56.93H111.40V59.66H74.85ZM74.85 59.06H108.63V61.79H74.85ZM77.62 61.19H108.63V63.92H77.62ZM80.38 63.32H105.87V66.05H80.38ZM83.15 65.45H103.10V68.18H83.15ZM83.15 67.58H103.10V70.31H83.15ZM91.44 69.71H100.34V72.44H91.44Z" fill="#b01b2e"/><path d="M49.97 46.28H64.39V49.01H49.97ZM47.20 48.41H67.16V51.14H47.20ZM47.20 50.54H67.16V53.27H47.20ZM44.44 52.67H69.92V55.40H44.44ZM44.44 54.80H69.92V57.53H44.44ZM44.44 56.93H69.92V59.66H44.44ZM44.44 59.06H69.92V61.79H44.44ZM44.44 61.19H69.92V63.92H44.44ZM44.44 63.32H67.16V66.05H44.44ZM44.44 65.45H67.16V68.18H44.44ZM44.44 67.58H67.16V70.31H44.44ZM47.20 69.71H64.39V72.44H47.20ZM47.20 71.84H58.86V74.57H47.20Z" fill="#053061"/><path d="M14.02 14.33H25.68V17.06H14.02ZM5.73 16.46H25.68V19.19H5.73ZM0.20 18.59H25.68V21.32H0.20ZM0.20 20.72H28.45V23.45H0.20ZM0.20 22.85H28.45V25.58H0.20ZM0.20 24.98H28.45V27.71H0.20ZM0.20 27.11H28.45V29.84H0.20ZM5.73 29.24H28.45V31.97H5.73ZM5.73 31.37H28.45V34.10H5.73ZM8.49 33.50H28.45V36.23H8.49ZM11.26 35.63H25.68V38.36H11.26ZM16.79 37.76H25.68V40.49H16.79ZM80.38 46.28H94.81V49.01H80.38ZM80.38 48.41H94.81V51.14H80.38ZM77.62 50.54H97.57V53.27H77.62ZM77.62 52.67H105.87V55.40H77.62ZM77.62 54.80H108.63V57.53H77.62ZM77.62 56.93H108.63V59.66H77.62ZM80.38 59.06H105.87V61.79H80.38ZM80.38 61.19H105.87V63.92H80.38ZM80.38 63.32H103.10V66.05H80.38ZM83.15 65.45H100.34V68.18H83.15ZM88.68 67.58H97.57V70.31H88.68Z" fill="#67001f"/></g>
<use href="#grid"/>
<use href="#lines"/>
</g>
<rect x="0" y="0" width="157.90" height="93.60" fill="none" stroke="#666" stroke-width="0.95"/>
<text x="-0.2" y="-5.35" font-size="9" textLength="12.3" lengthAdjust="spacingAndGlyphs">(c)</text>
<text x="78.95" y="-5.5" font-size="8.7" text-anchor="middle" textLength="36.0" lengthAdjust="spacingAndGlyphs">Difference</text>
</g>
<g transform="translate(5.50,132.40)">
<rect x="0" y="0" width="157.90" height="93.60" fill="#f4f4f4"/>
<g clip-path="url(#mc)">
<g><path d="M66.56 -0.58H103.10V2.15H66.56ZM66.56 1.55H103.10V4.28H66.56ZM66.56 3.68H105.87V6.41H66.56ZM66.56 5.81H105.87V8.54H66.56ZM66.56 7.94H105.87V10.67H66.56ZM66.56 10.07H105.87V12.80H66.56ZM66.56 12.20H105.87V14.93H66.56ZM66.56 14.33H105.87V17.06H66.56ZM0.20 16.46H6.33V19.19H0.20ZM72.09 16.46H103.10V19.19H72.09ZM0.20 18.59H9.09V21.32H0.20ZM72.09 18.59H103.10V21.32H72.09ZM0.20 20.72H11.86V23.45H0.20ZM72.09 20.72H100.34V23.45H72.09ZM0.20 22.85H14.62V25.58H0.20ZM72.09 22.85H100.34V25.58H72.09ZM0.20 24.98H17.39V27.71H0.20ZM77.62 24.98H100.34V27.71H77.62ZM0.20 27.11H20.15V29.84H0.20ZM77.62 27.11H100.34V29.84H77.62ZM0.20 29.24H20.15V31.97H0.20ZM77.62 29.24H100.34V31.97H77.62ZM0.20 31.37H20.15V34.10H0.20ZM77.62 31.37H100.34V34.10H77.62ZM0.20 33.50H20.15V36.23H0.20ZM77.62 33.50H100.34V36.23H77.62ZM0.20 35.63H20.15V38.36H0.20ZM77.62 35.63H100.34V38.36H77.62ZM0.20 37.76H17.39V40.49H0.20ZM77.62 37.76H105.87V40.49H77.62ZM0.20 39.89H17.39V42.62H0.20ZM77.62 39.89H108.63V42.62H77.62ZM0.20 42.02H17.39V44.75H0.20ZM74.85 42.02H108.63V44.75H74.85ZM0.20 44.15H14.62V46.88H0.20ZM74.85 44.15H111.40V46.88H74.85ZM0.20 46.28H11.86V49.01H0.20ZM74.85 46.28H114.16V49.01H74.85ZM0.20 48.41H11.86V51.14H0.20ZM74.85 48.41H114.16V51.14H74.85ZM74.85 50.54H114.16V53.27H74.85ZM74.85 52.67H114.16V55.40H74.85ZM74.85 54.80H114.16V57.53H74.85ZM74.85 56.93H114.16V59.66H74.85ZM74.85 59.06H114.16V61.79H74.85ZM74.85 61.19H111.40V63.92H74.85ZM74.85 63.32H108.63V66.05H74.85ZM74.85 65.45H108.63V68.18H74.85ZM74.85 67.58H105.87V70.31H74.85ZM77.62 69.71H100.34V72.44H77.62ZM80.38 71.84H100.34V74.57H80.38ZM83.15 73.97H100.34V76.70H83.15ZM85.91 76.10H94.81V78.83H85.91ZM85.91 78.23H94.81V80.96H85.91Z" fill="#d0cfe6"/><path d="M14.02 1.55H20.15V4.28H14.02ZM8.49 3.68H28.45V6.41H8.49ZM11.26 5.81H33.98V8.54H11.26ZM14.02 7.94H36.74V10.67H14.02ZM16.79 10.07H39.51V12.80H16.79ZM19.55 12.20H45.04V14.93H19.55ZM22.32 14.33H47.80V17.06H22.32ZM25.08 16.46H53.33V19.19H25.08ZM27.85 18.59H56.10V21.32H27.85ZM30.61 20.72H58.86V23.45H30.61ZM33.38 22.85H58.86V25.58H33.38ZM33.38 24.98H61.63V27.71H33.38ZM36.14 27.11H67.16V29.84H36.14ZM36.14 29.24H67.16V31.97H36.14ZM36.14 31.37H67.16V34.10H36.14ZM36.14 33.50H67.16V36.23H36.14ZM36.14 35.63H67.16V38.36H36.14ZM33.38 37.76H67.16V40.49H33.38ZM33.38 39.89H67.16V42.62H33.38ZM33.38 42.02H67.16V44.75H33.38ZM33.38 44.15H67.16V46.88H33.38ZM30.61 46.28H67.16V49.01H30.61ZM30.61 48.41H67.16V51.14H30.61ZM30.61 50.54H67.16V53.27H30.61ZM27.85 52.67H67.16V55.40H27.85ZM27.85 54.80H69.92V57.53H27.85ZM27.85 56.93H69.92V59.66H27.85ZM27.85 59.06H69.92V61.79H27.85ZM27.85 61.19H69.92V63.92H27.85ZM27.85 63.32H69.92V66.05H27.85ZM27.85 65.45H69.92V68.18H27.85ZM27.85 67.58H69.92V70.31H27.85ZM30.61 69.71H69.92V72.44H30.61ZM30.61 71.84H69.92V74.57H30.61ZM30.61 73.97H69.92V76.70H30.61ZM33.38 76.10H69.92V78.83H33.38ZM41.67 78.23H64.39V80.96H41.67ZM124.62 78.23H133.52V80.96H124.62ZM124.62 80.36H130.75V83.09H124.62ZM124.62 82.49H130.75V85.22H124.62ZM124.62 84.62H127.99V87.35H124.62Z" fill="#fdd49e"/><path d="M77.62 5.81H86.51V8.54H77.62ZM77.62 7.94H92.04V10.67H77.62ZM80.38 10.07H92.04V12.80H80.38ZM80.38 12.20H92.04V14.93H80.38ZM80.38 14.33H86.51V17.06H80.38ZM80.38 16.46H86.51V19.19H80.38ZM0.20 20.72H6.33V23.45H0.20ZM0.20 22.85H6.33V25.58H0.20ZM0.20 24.98H9.09V27.71H0.20ZM0.20 27.11H11.86V29.84H0.20ZM0.20 29.24H11.86V31.97H0.20ZM0.20 31.37H11.86V34.10H0.20ZM0.20 33.50H11.86V36.23H0.20ZM0.20 35.63H9.09V38.36H0.20ZM80.38 42.02H97.57V44.75H80.38ZM77.62 44.15H103.10V46.88H77.62ZM74.85 46.28H105.87V49.01H74.85ZM74.85 48.41H105.87V51.14H74.85ZM74.85 50.54H105.87V53.27H74.85ZM74.85 52.67H105.87V55.40H74.85ZM74.85 54.80H105.87V57.53H74.85ZM74.85 56.93H105.87V59.66H74.85ZM74.85 59.06H105.87V61.79H74.85ZM74.85 61.19H105.87V63.92H74.85ZM77.62 63.32H105.87V66.05H77.62ZM77.62 65.45H105.87V68.18H77.62ZM77.62 67.58H100.34V70.31H77.62ZM80.38 69.71H97.57V72.44H80.38ZM83.15 71.84H92.04V74.57H83.15Z" fill="#9b8fc3"/><path d="M47.20 22.85H56.10V25.58H47.20ZM44.44 24.98H58.86V27.71H44.44ZM41.67 27.11H61.63V29.84H41.67ZM41.67 29.24H61.63V31.97H41.67ZM41.67 31.37H61.63V34.10H41.67ZM41.67 33.50H61.63V36.23H41.67ZM41.67 35.63H61.63V38.36H41.67ZM41.67 37.76H64.39V40.49H41.67ZM41.67 39.89H64.39V42.62H41.67ZM41.67 42.02H64.39V44.75H41.67ZM41.67 44.15H64.39V46.88H41.67ZM36.14 46.28H64.39V49.01H36.14ZM36.14 48.41H64.39V51.14H36.14ZM36.14 50.54H64.39V53.27H36.14ZM33.38 52.67H64.39V55.40H33.38ZM33.38 54.80H64.39V57.53H33.38ZM33.38 56.93H64.39V59.66H33.38ZM33.38 59.06H64.39V61.79H33.38ZM36.14 61.19H64.39V63.92H36.14ZM38.91 63.32H64.39V66.05H38.91ZM38.91 65.45H64.39V68.18H38.91ZM41.67 67.58H64.39V70.31H41.67ZM44.44 69.71H64.39V72.44H44.44ZM47.20 71.84H64.39V74.57H47.20ZM47.20 73.97H64.39V76.70H47.20Z" fill="#ee9a3a"/><path d="M77.62 46.28H97.57V49.01H77.62ZM74.85 48.41H100.34V51.14H74.85ZM74.85 50.54H100.34V53.27H74.85ZM74.85 52.67H100.34V55.40H74.85ZM74.85 54.80H100.34V57.53H74.85ZM74.85 56.93H100.34V59.66H74.85ZM74.85 59.06H100.34V61.79H74.85ZM74.85 61.19H100.34V63.92H74.85ZM80.38 63.32H97.57V66.05H80.38ZM80.38 65.45H97.57V68.18H80.38Z" fill="#542788"/><path d="M49.97 37.76H58.86V40.49H49.97ZM49.97 39.89H58.86V42.62H49.97ZM47.20 42.02H58.86V44.75H47.20ZM47.20 44.15H61.63V46.88H47.20ZM47.20 46.28H61.63V49.01H47.20ZM47.20 48.41H61.63V51.14H47.20ZM47.20 50.54H61.63V53.27H47.20ZM44.44 52.67H61.63V55.40H44.44ZM44.44 54.80H64.39V57.53H44.44ZM44.44 56.93H64.39V59.66H44.44ZM44.44 59.06H64.39V61.79H44.44ZM47.20 61.19H64.39V63.92H47.20ZM47.20 63.32H64.39V66.05H47.20ZM47.20 65.45H64.39V68.18H47.20ZM47.20 67.58H61.63V70.31H47.20ZM49.97 69.71H61.63V72.44H49.97Z" fill="#c0620c"/><path d="M80.38 48.41H94.81V51.14H80.38ZM77.62 50.54H94.81V53.27H77.62ZM74.85 52.67H94.81V55.40H74.85ZM74.85 54.80H94.81V57.53H74.85ZM74.85 56.93H94.81V59.66H74.85ZM74.85 59.06H94.81V61.79H74.85ZM80.38 61.19H92.04V63.92H80.38Z" fill="#2d004b"/><path d="M49.97 50.54H56.10V53.27H49.97ZM49.97 52.67H58.86V55.40H49.97ZM49.97 54.80H58.86V57.53H49.97ZM49.97 56.93H58.86V59.66H49.97ZM49.97 59.06H61.63V61.79H49.97ZM49.97 61.19H61.63V63.92H49.97ZM52.73 63.32H58.86V66.05H52.73ZM52.73 65.45H58.86V68.18H52.73Z" fill="#7f3b08"/></g>
<use href="#grid"/>
<use href="#lines"/>
</g>
<rect x="0" y="0" width="157.90" height="93.60" fill="none" stroke="#666" stroke-width="0.95"/>
<text x="-0.2" y="-5.35" font-size="9" textLength="12.3" lengthAdjust="spacingAndGlyphs">(d)</text>
<text x="78.95" y="-5.5" font-size="8.7" text-anchor="middle" textLength="114.0" lengthAdjust="spacingAndGlyphs">Yearly PV analogs (1990-1999)</text>
</g>
<g transform="translate(171.10,132.40)">
<rect x="0" y="0" width="157.90" height="93.60" fill="#f4f4f4"/>
<g clip-path="url(#mc)">
<g><path d="M61.03 -0.58H100.34V2.15H61.03ZM61.03 1.55H103.10V4.28H61.03ZM61.03 3.68H105.87V6.41H61.03ZM61.03 5.81H105.87V8.54H61.03ZM63.79 7.94H105.87V10.67H63.79ZM66.56 10.07H105.87V12.80H66.56ZM69.32 12.20H105.87V14.93H69.32ZM69.32 14.33H105.87V17.06H69.32ZM0.20 16.46H6.33V19.19H0.20ZM72.09 16.46H105.87V19.19H72.09ZM0.20 18.59H9.09V21.32H0.20ZM72.09 18.59H103.10V21.32H72.09ZM0.20 20.72H11.86V23.45H0.20ZM72.09 20.72H103.10V23.45H72.09ZM0.20 22.85H11.86V25.58H0.20ZM72.09 22.85H103.10V25.58H72.09ZM0.20 24.98H14.62V27.71H0.20ZM72.09 24.98H100.34V27.71H72.09ZM0.20 27.11H17.39V29.84H0.20ZM80.38 27.11H100.34V29.84H80.38ZM0.20 29.24H17.39V31.97H0.20ZM80.38 29.24H100.34V31.97H80.38ZM0.20 31.37H17.39V34.10H0.20ZM80.38 31.37H100.34V34.10H80.38ZM0.20 33.50H14.62V36.23H0.20ZM80.38 33.50H100.34V36.23H80.38ZM0.20 35.63H11.86V38.36H0.20ZM80.38 35.63H100.34V38.36H80.38ZM0.20 37.76H9.09V40.49H0.20ZM74.85 37.76H103.10V40.49H74.85ZM0.20 39.89H9.09V42.62H0.20ZM74.85 39.89H105.87V42.62H74.85ZM74.85 42.02H108.63V44.75H74.85ZM74.85 44.15H108.63V46.88H74.85ZM74.85 46.28H111.40V49.01H74.85ZM74.85 48.41H111.40V51.14H74.85ZM74.85 50.54H111.40V53.27H74.85ZM74.85 52.67H111.40V55.40H74.85ZM74.85 54.80H111.40V57.53H74.85ZM74.85 56.93H111.40V59.66H74.85ZM74.85 59.06H111.40V61.79H74.85ZM74.85 61.19H108.63V63.92H74.85ZM77.62 63.32H105.87V66.05H77.62ZM80.38 65.45H108.63V68.18H80.38ZM80.38 67.58H105.87V70.31H80.38ZM80.38 69.71H100.34V72.44H80.38ZM80.38 71.84H97.57V74.57H80.38ZM80.38 73.97H97.57V76.70H80.38ZM80.38 76.10H94.81V78.83H80.38ZM85.91 78.23H94.81V80.96H85.91Z" fill="#d0cfe6"/><path d="M8.49 3.68H33.98V6.41H8.49ZM8.49 5.81H33.98V8.54H8.49ZM11.26 7.94H42.27V10.67H11.26ZM14.02 10.07H45.04V12.80H14.02ZM16.79 12.20H56.10V14.93H16.79ZM16.79 14.33H56.10V17.06H16.79ZM22.32 16.46H58.86V19.19H22.32ZM25.08 18.59H61.63V21.32H25.08ZM30.61 20.72H61.63V23.45H30.61ZM30.61 22.85H61.63V25.58H30.61ZM33.38 24.98H61.63V27.71H33.38ZM33.38 27.11H69.92V29.84H33.38ZM33.38 29.24H69.92V31.97H33.38ZM33.38 31.37H69.92V34.10H33.38ZM33.38 33.50H69.92V36.23H33.38ZM33.38 35.63H69.92V38.36H33.38ZM33.38 37.76H69.92V40.49H33.38ZM33.38 39.89H69.92V42.62H33.38ZM33.38 42.02H69.92V44.75H33.38ZM30.61 44.15H69.92V46.88H30.61ZM30.61 46.28H67.16V49.01H30.61ZM30.61 48.41H67.16V51.14H30.61ZM27.85 50.54H67.16V53.27H27.85ZM27.85 52.67H69.92V55.40H27.85ZM25.08 54.80H69.92V57.53H25.08ZM25.08 56.93H69.92V59.66H25.08ZM25.08 59.06H72.69V61.79H25.08ZM25.08 61.19H72.69V63.92H25.08ZM27.85 63.32H72.69V66.05H27.85ZM27.85 65.45H72.69V68.18H27.85ZM30.61 67.58H72.69V70.31H30.61ZM30.61 69.71H72.69V72.44H30.61ZM30.61 71.84H69.92V74.57H30.61ZM30.61 73.97H69.92V76.70H30.61ZM33.38 76.10H67.16V78.83H33.38ZM44.44 78.23H61.63V80.96H44.44Z" fill="#fdd49e"/><path d="M74.85 1.55H80.98V4.28H74.85ZM74.85 3.68H86.51V6.41H74.85ZM74.85 5.81H86.51V8.54H74.85ZM74.85 7.94H89.28V10.67H74.85ZM80.38 10.07H86.51V12.80H80.38ZM80.38 12.20H86.51V14.93H80.38ZM80.38 14.33H86.51V17.06H80.38ZM0.20 20.72H6.33V23.45H0.20ZM0.20 22.85H6.33V25.58H0.20ZM0.20 24.98H9.09V27.71H0.20ZM0.20 27.11H9.09V29.84H0.20ZM0.20 29.24H6.33V31.97H0.20ZM0.20 31.37H6.33V34.10H0.20ZM0.20 33.50H3.56V36.23H0.20ZM80.38 39.89H94.81V42.62H80.38ZM77.62 42.02H100.34V44.75H77.62ZM77.62 44.15H100.34V46.88H77.62ZM74.85 46.28H100.34V49.01H74.85ZM74.85 48.41H105.87V51.14H74.85ZM74.85 50.54H105.87V53.27H74.85ZM74.85 52.67H105.87V55.40H74.85ZM74.85 54.80H105.87V57.53H74.85ZM74.85 56.93H105.87V59.66H74.85ZM74.85 59.06H105.87V61.79H74.85ZM74.85 61.19H103.10V63.92H74.85ZM77.62 63.32H100.34V66.05H77.62ZM80.38 65.45H103.10V68.18H80.38ZM80.38 67.58H100.34V70.31H80.38ZM83.15 69.71H97.57V72.44H83.15ZM85.91 71.84H92.04V74.57H85.91ZM85.91 73.97H92.04V76.70H85.91Z" fill="#9b8fc3"/><path d="M41.67 20.72H56.10V23.45H41.67ZM41.67 22.85H56.10V25.58H41.67ZM41.67 24.98H58.86V27.71H41.67ZM41.67 27.11H64.39V29.84H41.67ZM41.67 29.24H64.39V31.97H41.67ZM41.67 31.37H64.39V34.10H41.67ZM41.67 33.50H64.39V36.23H41.67ZM41.67 35.63H64.39V38.36H41.67ZM41.67 37.76H64.39V40.49H41.67ZM41.67 39.89H64.39V42.62H41.67ZM41.67 42.02H64.39V44.75H41.67ZM36.14 44.15H64.39V46.88H36.14ZM36.14 46.28H64.39V49.01H36.14ZM36.14 48.41H64.39V51.14H36.14ZM36.14 50.54H64.39V53.27H36.14ZM36.14 52.67H64.39V55.40H36.14ZM36.14 54.80H67.16V57.53H36.14ZM36.14 56.93H67.16V59.66H36.14ZM36.14 59.06H69.92V61.79H36.14ZM38.91 61.19H69.92V63.92H38.91ZM38.91 63.32H69.92V66.05H38.91ZM38.91 65.45H69.92V68.18H38.91ZM41.67 67.58H69.92V70.31H41.67ZM38.91 69.71H69.92V72.44H38.91ZM44.44 71.84H67.16V74.57H44.44ZM44.44 73.97H67.16V76.70H44.44Z" fill="#ee9a3a"/><path d="M85.91 44.15H92.04V46.88H85.91ZM77.62 46.28H100.34V49.01H77.62ZM74.85 48.41H100.34V51.14H74.85ZM74.85 50.54H103.10V53.27H74.85ZM74.85 52.67H103.10V55.40H74.85ZM74.85 54.80H103.10V57.53H74.85ZM74.85 56.93H103.10V59.66H74.85ZM74.85 59.06H100.34V61.79H74.85ZM74.85 61.19H94.81V63.92H74.85ZM77.62 63.32H94.81V66.05H77.62ZM80.38 65.45H97.57V68.18H80.38ZM83.15 67.58H92.04V70.31H83.15Z" fill="#542788"/><path d="M49.97 33.50H56.10V36.23H49.97ZM47.20 35.63H61.63V38.36H47.20ZM47.20 37.76H61.63V40.49H47.20ZM47.20 39.89H61.63V42.62H47.20ZM44.44 42.02H61.63V44.75H44.44ZM44.44 44.15H61.63V46.88H44.44ZM44.44 46.28H64.39V49.01H44.44ZM44.44 48.41H64.39V51.14H44.44ZM44.44 50.54H64.39V53.27H44.44ZM44.44 52.67H64.39V55.40H44.44ZM38.91 54.80H64.39V57.53H38.91ZM38.91 56.93H64.39V59.66H38.91ZM38.91 59.06H67.16V61.79H38.91ZM41.67 61.19H67.16V63.92H41.67ZM41.67 63.32H67.16V66.05H41.67ZM41.67 65.45H67.16V68.18H41.67ZM44.44 67.58H67.16V70.31H44.44ZM44.44 69.71H64.39V72.44H44.44Z" fill="#c0620c"/><path d="M80.38 48.41H97.57V51.14H80.38ZM77.62 50.54H97.57V53.27H77.62ZM74.85 52.67H97.57V55.40H74.85ZM74.85 54.80H97.57V57.53H74.85ZM74.85 56.93H97.57V59.66H74.85ZM77.62 59.06H97.57V61.79H77.62ZM80.38 61.19H94.81V63.92H80.38Z" fill="#2d004b"/><path d="M47.20 50.54H56.10V53.27H47.20ZM47.20 52.67H58.86V55.40H47.20ZM47.20 54.80H58.86V57.53H47.20ZM47.20 56.93H61.63V59.66H47.20ZM47.20 59.06H61.63V61.79H47.20ZM47.20 61.19H64.39V63.92H47.20ZM47.20 63.32H64.39V66.05H47.20ZM47.20 65.45H64.39V68.18H47.20ZM47.20 67.58H61.63V70.31H47.20Z" fill="#7f3b08"/></g>
<use href="#grid"/>
<use href="#lines"/>
</g>
<rect x="0" y="0" width="157.90" height="93.60" fill="none" stroke="#666" stroke-width="0.95"/>
<text x="-0.2" y="-5.35" font-size="9" textLength="12.3" lengthAdjust="spacingAndGlyphs">(e)</text>
<text x="78.95" y="-5.5" font-size="8.7" text-anchor="middle" textLength="114.0" lengthAdjust="spacingAndGlyphs">Yearly PV analogs (2091-2100)</text>
</g>
<g transform="translate(336.40,132.40)">
<rect x="0" y="0" width="157.90" height="93.60" fill="#fff"/>
<g clip-path="url(#mc)">
<use href="#grid"/>
<use href="#lines"/>
</g>
<rect x="0" y="0" width="157.90" height="93.60" fill="none" stroke="#666" stroke-width="0.95"/>
<text x="-0.2" y="-5.35" font-size="9" textLength="12.3" lengthAdjust="spacingAndGlyphs">(f)</text>
<text x="78.95" y="-5.5" font-size="8.7" text-anchor="middle" textLength="36.0" lengthAdjust="spacingAndGlyphs">Difference</text>
</g>
<path d="M107.30 233.30 L100.20 237.05 L107.30 240.80 Z" fill="#2d004b"/>
<path d="M243.20 233.30 L250.30 237.05 L243.20 240.80 Z" fill="#7f3b08"/>
<rect x="106.85" y="233.30" width="19.80" height="7.50" fill="#542788"/>
<rect x="126.35" y="233.30" width="19.80" height="7.50" fill="#9b8fc3"/>
<rect x="145.85" y="233.30" width="19.80" height="7.50" fill="#d0cfe6"/>
<rect x="165.35" y="233.30" width="19.80" height="7.50" fill="#f4f4f4"/>
<rect x="184.85" y="233.30" width="19.80" height="7.50" fill="#fdd49e"/>
<rect x="204.35" y="233.30" width="19.80" height="7.50" fill="#ee9a3a"/>
<rect x="223.85" y="233.30" width="19.80" height="7.50" fill="#c0620c"/>
<path d="M107.00 233.30 L243.50 233.30 L250.30 237.05 L243.50 240.80 L107.00 240.80 L100.20 237.05 Z" fill="none" stroke="#666" stroke-width="0.6"/>
<line x1="107.00" y1="240.80" x2="107.00" y2="244.00" stroke="#333" stroke-width="0.6"/>
<text x="107.30" y="253.1" font-size="7.2" letter-spacing="0.60" text-anchor="middle" style="font-family:'Liberation Serif',serif">−4</text>
<line x1="126.50" y1="240.80" x2="126.50" y2="244.00" stroke="#333" stroke-width="0.6"/>
<text x="126.80" y="253.1" font-size="7.2" letter-spacing="0.60" text-anchor="middle" style="font-family:'Liberation Serif',serif">−3</text>
<line x1="146.00" y1="240.80" x2="146.00" y2="244.00" stroke="#333" stroke-width="0.6"/>
<text x="146.30" y="253.1" font-size="7.2" letter-spacing="0.60" text-anchor="middle" style="font-family:'Liberation Serif',serif">−2</text>
<line x1="165.50" y1="240.80" x2="165.50" y2="244.00" stroke="#333" stroke-width="0.6"/>
<text x="165.80" y="253.1" font-size="7.2" letter-spacing="0.60" text-anchor="middle" style="font-family:'Liberation Serif',serif">−1</text>
<line x1="185.00" y1="240.80" x2="185.00" y2="244.00" stroke="#333" stroke-width="0.6"/>
<text x="185.30" y="253.1" font-size="7.2" letter-spacing="0.60" text-anchor="middle" style="font-family:'Liberation Serif',serif">1</text>
<line x1="204.50" y1="240.80" x2="204.50" y2="244.00" stroke="#333" stroke-width="0.6"/>
<text x="204.80" y="253.1" font-size="7.2" letter-spacing="0.60" text-anchor="middle" style="font-family:'Liberation Serif',serif">2</text>
<line x1="224.00" y1="240.80" x2="224.00" y2="244.00" stroke="#333" stroke-width="0.6"/>
<text x="224.30" y="253.1" font-size="7.2" letter-spacing="0.60" text-anchor="middle" style="font-family:'Liberation Serif',serif">3</text>
<line x1="243.50" y1="240.80" x2="243.50" y2="244.00" stroke="#333" stroke-width="0.6"/>
<text x="243.80" y="253.1" font-size="7.2" letter-spacing="0.60" text-anchor="middle" style="font-family:'Liberation Serif',serif">4</text>
<text x="175.5" y="264.6" font-size="7.4" text-anchor="middle"><tspan style="font-family:'Liberation Serif',serif;font-style:italic">ω</tspan><tspan font-size="5" dy="1.2" style="font-family:'Liberation Serif',serif;font-style:italic">QG</tspan><tspan dy="-1.2"> [cPa/s]</tspan></text>
<path d="M346.80 233.30 L339.70 237.05 L346.80 240.80 Z" fill="#053061"/>
<path d="M482.44 233.30 L489.54 237.05 L482.44 240.80 Z" fill="#67001f"/>
<rect x="346.35" y="233.30" width="17.33" height="7.50" fill="#1f63a8"/>
<rect x="363.38" y="233.30" width="17.33" height="7.50" fill="#4b92c5"/>
<rect x="380.41" y="233.30" width="17.33" height="7.50" fill="#9dcae2"/>
<rect x="397.44" y="233.30" width="17.33" height="7.50" fill="#dfebf3"/>
<rect x="414.47" y="233.30" width="17.33" height="7.50" fill="#fbe2d4"/>
<rect x="431.50" y="233.30" width="17.33" height="7.50" fill="#f3a784"/>
<rect x="448.53" y="233.30" width="17.33" height="7.50" fill="#d6604d"/>
<rect x="465.56" y="233.30" width="17.33" height="7.50" fill="#b01b2e"/>
<path d="M346.50 233.30 L482.74 233.30 L489.54 237.05 L482.74 240.80 L346.50 240.80 L339.70 237.05 Z" fill="none" stroke="#666" stroke-width="0.6"/>
<line x1="346.50" y1="240.80" x2="346.50" y2="244.00" stroke="#333" stroke-width="0.6"/>
<text x="346.62" y="253.1" font-size="6.4" letter-spacing="0.25" text-anchor="middle">-1.0</text>
<line x1="363.53" y1="240.80" x2="363.53" y2="244.00" stroke="#333" stroke-width="0.6"/>
<text x="363.65" y="253.1" font-size="6.4" letter-spacing="0.25" text-anchor="middle">-0.8</text>
<line x1="380.56" y1="240.80" x2="380.56" y2="244.00" stroke="#333" stroke-width="0.6"/>
<text x="380.69" y="253.1" font-size="6.4" letter-spacing="0.25" text-anchor="middle">-0.5</text>
<line x1="397.59" y1="240.80" x2="397.59" y2="244.00" stroke="#333" stroke-width="0.6"/>
<text x="397.72" y="253.1" font-size="6.4" letter-spacing="0.25" text-anchor="middle">-0.2</text>
<line x1="414.62" y1="240.80" x2="414.62" y2="244.00" stroke="#333" stroke-width="0.6"/>
<text x="414.75" y="253.1" font-size="6.4" letter-spacing="0.25" text-anchor="middle">0.0</text>
<line x1="431.65" y1="240.80" x2="431.65" y2="244.00" stroke="#333" stroke-width="0.6"/>
<text x="431.77" y="253.1" font-size="6.4" letter-spacing="0.25" text-anchor="middle">0.2</text>
<line x1="448.68" y1="240.80" x2="448.68" y2="244.00" stroke="#333" stroke-width="0.6"/>
<text x="448.81" y="253.1" font-size="6.4" letter-spacing="0.25" text-anchor="middle">0.5</text>
<line x1="465.71" y1="240.80" x2="465.71" y2="244.00" stroke="#333" stroke-width="0.6"/>
<text x="465.84" y="253.1" font-size="6.4" letter-spacing="0.25" text-anchor="middle">0.8</text>
<line x1="482.74" y1="240.80" x2="482.74" y2="244.00" stroke="#333" stroke-width="0.6"/>
<text x="482.87" y="253.1" font-size="6.4" letter-spacing="0.25" text-anchor="middle">1.0</text>
<text x="414.5" y="264.6" font-size="7.4" text-anchor="middle">Δ [cPa/s]</text>
</svg></body></html>
